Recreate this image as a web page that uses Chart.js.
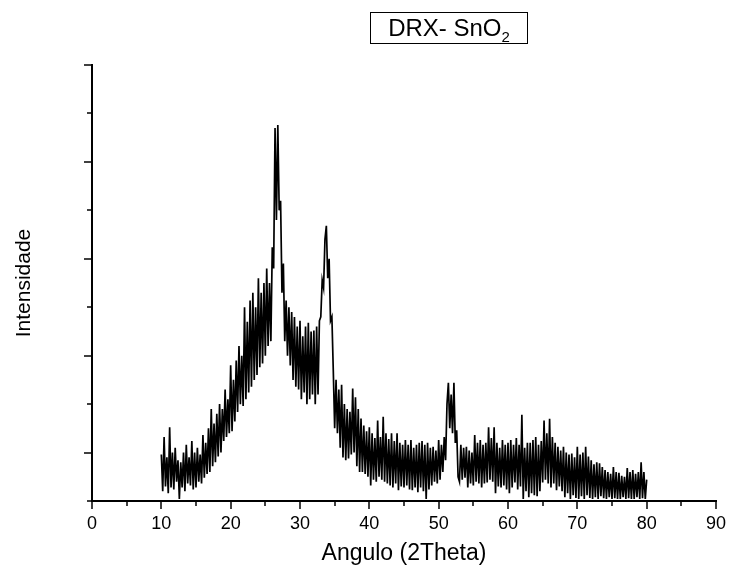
<!DOCTYPE html>
<html><head><meta charset="utf-8">
<script src="https://cdn.jsdelivr.net/npm/chart.js@4.4.1/dist/chart.umd.min.js"></script>
<style>
html,body{margin:0;padding:0;background:#fff;}
#wrap{position:relative;width:731px;height:579px;}
#legend{position:absolute;left:370px;top:12px;width:156px;height:30px;border:1px solid #000;font-family:"Liberation Sans",Arial,sans-serif;font-size:24px;line-height:30px;text-align:center;color:#000;box-sizing:content-box;}
#legend sub{font-size:15px;vertical-align:-6px;line-height:0;}
</style></head><body>
<div id="wrap"><canvas id="c" width="731" height="579"></canvas><div id="legend">DRX- SnO<sub>2</sub></div></div>
<script>
// Scan: 2θ from 10 to 80 in steps of 0.2 degree
const ANGLE_START = 10;
const ANGLE_STEP = 0.2;
// Intensity (arbitrary units, axis 0..450), 5 readings per degree
const intensity = [
 48,10,66,15,45,   8,76,14,50,12,   55,20,42,2,40,   14,50,10,58,18,   45,16,62,12,50,
 14,55,20,48,18,   68,24,60,28,75,   30,95,36,80,40,   90,46,100,50,95,   62,115,66,105,70,
 140,72,125,82,145,   92,160,100,150,98,   200,105,185,112,207,   118,215,125,200,130,   230,138,215,142,225,
 150,240,160,225,165,   262,240,385,290,388,   300,310,215,245,165,   207,150,200,140,195,   125,190,118,180,115,
 186,105,170,112,180,   100,184,105,175,110,   176,100,180,110,186,   190,228,220,270,284,   230,250,186,190,135,
 75,125,70,115,55,   120,45,100,42,95,   44,92,48,116,50,   107,36,95,30,85,   30,78,28,72,25,
 76,16,70,22,65,   20,83,25,66,22,   87,20,70,18,64,   16,70,14,62,18,   70,11,60,15,58,
 14,63,16,58,12,   63,11,55,14,58,   9,60,14,62,10,   58,2,60,12,55,   16,56,20,52,18,
 63,22,58,30,66,   42,100,122,75,110,   70,122,60,73,25,   20,58,22,55,24,   56,14,52,18,50,
 16,68,20,60,18,   63,14,58,18,60,   19,76,22,65,20,   76,8,60,15,55,   14,63,16,58,12,
 60,8,63,14,58,   19,65,12,58,15,   89,2,55,10,60,   4,60,8,63,6,   66,5,58,10,62,
 19,83,22,70,18,   85,14,66,18,60,   11,56,15,52,10,   56,4,50,8,48,   2,49,6,45,3,
 56,2,48,5,50,   2,56,6,46,3,   42,2,38,4,40,   2,39,5,35,3,   32,2,30,4,28,
 2,35,3,30,2,   29,2,26,4,25,   2,34,3,30,2,   32,2,28,4,30,   2,40,3,30,2,
 22
];
const xTickLabels = ['0','10','20','30','40','50','60','70','80','90'];
const X_MIN = 0, X_MAX = 90, X_STEP = 5;
const Y_MIN = 0, Y_MAX = 450, Y_STEP = 50;
const seriesLabel = 'DRX- SnO₂';

const points = intensity.map((v, i) => ({x: ANGLE_START + i * ANGLE_STEP, y: v}));
const FONT = '"Liberation Sans", Arial, sans-serif';

const tickMarks = {
  id: 'tickMarks',
  afterDraw(chart) {
    const ctx = chart.ctx, xs = chart.scales.x, ys = chart.scales.y;
    ctx.save();
    ctx.strokeStyle = '#000';
    ctx.lineWidth = 1.5;
    xs.ticks.forEach(t => {
      const px = Math.round(xs.getPixelForValue(t.value));
      const major = t.value % 10 === 0;
      ctx.beginPath();
      ctx.moveTo(px, xs.top);
      ctx.lineTo(px, xs.top + (major ? 8 : 5));
      ctx.stroke();
    });
    ys.ticks.forEach(t => {
      const py = Math.round(ys.getPixelForValue(t.value));
      const major = (t.value / 50) % 2 === 1;
      ctx.beginPath();
      ctx.moveTo(ys.right, py);
      ctx.lineTo(ys.right - (major ? 8 : 5), py);
      ctx.stroke();
    });
    ctx.restore();
  }
};

new Chart(document.getElementById('c'), {
  type: 'line',
  data: {
    datasets: [{
      label: seriesLabel,
      data: points,
      borderColor: '#000',
      borderWidth: 1.7,
      pointRadius: 0,
      tension: 0,
      fill: false
    }]
  },
  options: {
    responsive: false,
    animation: false,
    devicePixelRatio: 1,
    layout: {padding: {top: 65, right: 15, left: 0, bottom: 0}},
    plugins: {legend: {display: false}, tooltip: {enabled: false}},
    scales: {
      x: {
        type: 'linear', min: X_MIN, max: X_MAX,
        grid: {display: false, drawTicks: false},
        border: {display: true, color: '#000', width: 2},
        ticks: {
          stepSize: X_STEP, padding: 12, color: '#000', maxRotation: 0, autoSkip: false,
          font: {family: FONT, size: 18},
          callback: v => (v % 10 === 0 ? xTickLabels[v / 10] : '')
        },
        title: {display: true, text: 'Angulo (2Theta)', color: '#000',
          font: {family: FONT, size: 23}, padding: {top: 0, bottom: 12}},
        afterFit: s => { s.height = 78; s.paddingLeft = 0; s.paddingRight = 0; }
      },
      y: {
        type: 'linear', min: Y_MIN, max: Y_MAX,
        grid: {display: false, drawTicks: false},
        border: {display: true, color: '#000', width: 2},
        ticks: {stepSize: Y_STEP, display: false},
        title: {display: true, text: 'Intensidade', color: '#000',
          font: {family: FONT, size: 21}, padding: {top: 12, bottom: 0}},
        afterFit: s => { s.width = 92; s.paddingTop = 0; s.paddingBottom = 0; }
      }
    }
  },
  plugins: [tickMarks]
});
</script>
</body></html>
